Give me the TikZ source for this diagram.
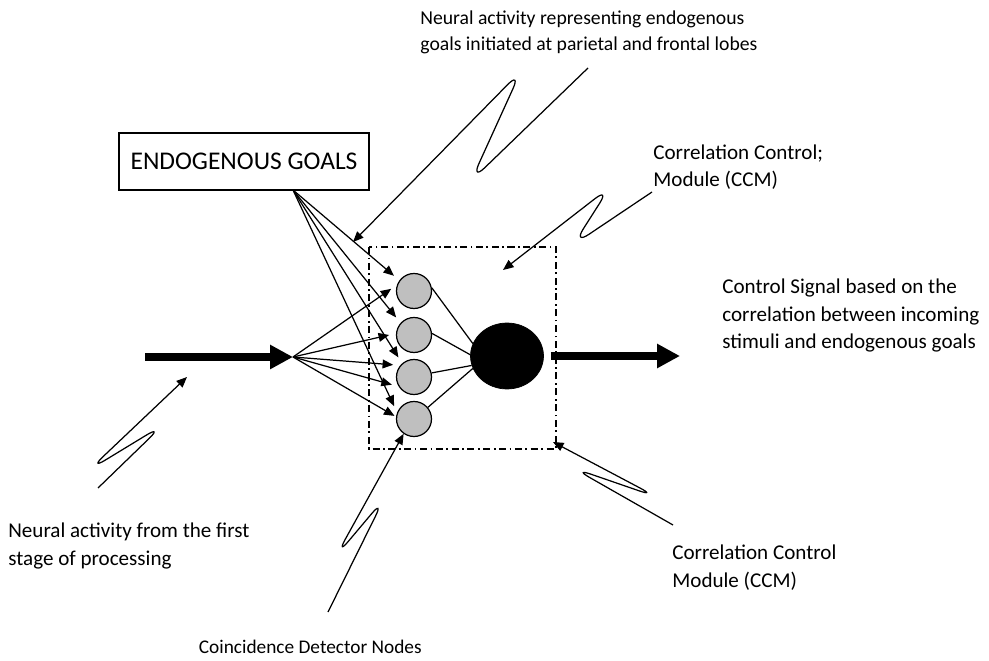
\documentclass[tikz,border=0pt]{standalone}
\usepackage{fontspec}
\setmainfont{Carlito}
\usetikzlibrary{arrows.meta,shapes.geometric}

\tikzset{
  goalbox/.style = {
    draw           = black,
    line width     = 0.8pt,
    fill           = white,
    minimum width  = 5cm,
    minimum height = 1.14cm,
    inner sep      = 0pt,
    font           = \fontsize{14.5}{17}\selectfont
  },
  detector/.style = {
    circle,
    draw          = black,
    line width    = 0.7pt,
    fill          = black!25,
    minimum size  = 0.7cm,
    inner sep     = 0pt
  },
  ccmcell/.style = {
    ellipse,
    draw           = black,
    fill           = black,
    minimum width  = 1.46cm,
    minimum height = 1.32cm,
    inner sep      = 0pt
  },
  modulebox/.style = {
    line width    = 0.8pt,
    dash pattern  = on 4pt off 2pt on 1pt off 2pt
  },
  notetext/.style = {
    anchor      = base west,
    align       = left,
    inner sep   = 0pt,
    font        = \fontsize{12}{15.9}\selectfont
  },
  fanarrow/.style = {
    line width  = 0.7pt,
    shorten >   = 4pt,
    -{Triangle[length=6pt,width=5pt]}
  },
  wire/.style = {
    line width  = 0.7pt
  },
  bigarrow/.style = {
    line width  = 4.3pt,
    -{Triangle[length=13pt,width=13pt]}
  },
  callout/.style = {
    line width      = 0.7pt,
    rounded corners = 11pt,
    -{Triangle[length=6pt,width=5pt]}
  }
}

\begin{document}
\begin{tikzpicture}[x=0.02cm, y=-0.02cm]
  \useasboundingbox (0,0) rectangle (989,661);

  \node[goalbox] (goals) at (244,161.5) {ENDOGENOUS GOALS};

  \draw[modulebox] (369,247) rectangle (556,449);

  \node[detector] (cd1) at (414,291) {};
  \node[detector] (cd2) at (414,335) {};
  \node[detector] (cd3) at (414,377) {};
  \node[detector] (cd4) at (414,419) {};
  \node[ccmcell]  (ccm) at (507,356) {};

  \coordinate (gfan)    at (293,190);
  \coordinate (instart) at (145,357);
  \coordinate (infan)   at (293,357);
  \coordinate (outtip)  at (680,356);

  \draw[bigarrow] (instart) -- (infan);
  \draw[bigarrow, shorten <=4pt] (ccm.east) -- (outtip);

  \draw[fanarrow] (gfan) -- (cd1.144);
  \draw[fanarrow] (gfan) -- (cd2.138);
  \draw[fanarrow] (gfan) -- (cd3.131);
  \draw[fanarrow] (gfan) -- (cd4.159);

  \draw[fanarrow] (infan) -- (cd1.160);
  \draw[fanarrow] (infan) -- (cd2.175);
  \draw[fanarrow] (infan) -- (cd3.140);
  \draw[fanarrow] (infan) -- (cd3.212);
  \draw[fanarrow, shorten >=1pt] (infan) -- (cd4.173);

  \draw[wire] (cd1.10)  -- (ccm.160);
  \draw[wire] (cd2.5)   -- (ccm.178);
  \draw[wire] (cd3.13)  -- (ccm.195);
  \draw[wire] (cd4.40)  -- (ccm.200);

  \node[notetext, font=\fontsize{11.2}{15}\selectfont] (goalsnote) at (420,51)
    {Neural activity representing endogenous\\goals initiated at parietal and frontal lobes};
  \node[notetext] (ccmnote) at (653,187) {Correlation Control;\\Module (CCM)};
  \node[notetext] (signalnote) at (722,349)
    {Control Signal based on the\\correlation between incoming\\stimuli and endogenous goals};
  \node[notetext] (innote) at (8,565) {Neural activity from the first\\stage of processing};
  \node[notetext] (modulenote) at (672,587) {Correlation Control\\Module (CCM)};
  \node[notetext, anchor=base east, font=\fontsize{11}{14}\selectfont] (cdnote) at (422,653)
    {Coincidence Detector Nodes};

  \coordinate (goalsfrom)  at (588,68);
  \coordinate (goalsto)    at (353,242);
  \coordinate (ccmfrom)    at (652,192);
  \coordinate (ccmto)      at (503,270);
  \coordinate (infrom)     at (98,488);
  \coordinate (into)       at (187,377);
  \coordinate (cdfrom)     at (328,612);
  \coordinate (modulefrom) at (673,525);
  \coordinate (moduleto)   at (553,442);

  \draw[callout] (goalsfrom) -- (471,181) -- (521,71) -- (goalsto);
  \draw[callout] (ccmfrom) -- (573,245) -- (610,187) -- (ccmto);
  \draw[callout] (infrom) -- (163,425) -- (89,470) -- (into);
  \draw[callout] (cdfrom) -- (384,499) -- (336,556) -- (cd4.235);
  \draw[callout] (modulefrom) -- (573,468) -- (657,497) -- (moduleto);
\end{tikzpicture}
\end{document}
